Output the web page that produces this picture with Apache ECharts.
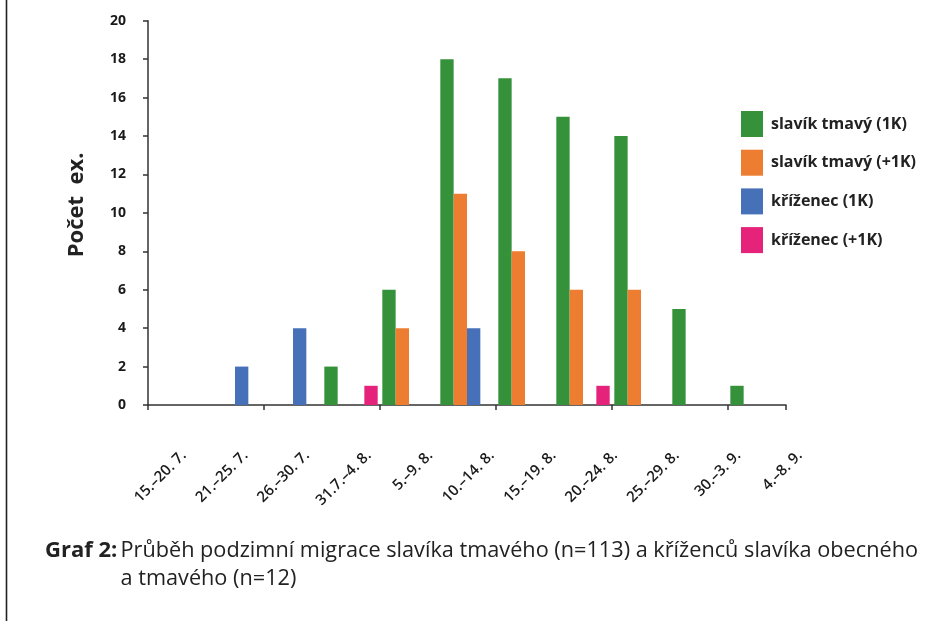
<!DOCTYPE html>
<html>
<head>
<meta charset="utf-8">
<title>Graf 2</title>
<script src="https://cdn.jsdelivr.net/npm/echarts@6/dist/echarts.min.js"></script>
<style>
  html, body { margin: 0; padding: 0; background: #fff; }
  #chart { width: 946px; height: 621px; }
</style>
</head>
<body>
<div id="chart"></div>
<script>
// Periods (five-day intervals) of the autumn migration
const periods = ['15.–20. 7.', '21.–25. 7.', '26.–30. 7.', '31.7.–4. 8.', '5.–9. 8.',
  '10.–14. 8.', '15.–19. 8.', '20.–24. 8.', '25.–29. 8.', '30.–3. 9.', '4.–8. 9.'];

// Counts per period
const tmavy1K   = [0, 0, 0, 2, 6, 18, 17, 15, 14, 5, 1];
const tmavyPlus = [0, 0, 0, 0, 4, 11, 8, 6, 6, 0, 0];
const krizenec1K   = [0, 2, 4, 0, 0, 4, 0, 0, 0, 0, 0];
const krizenecPlus = [0, 0, 0, 1, 0, 0, 0, 1, 0, 0, 0];

const seriesNames = ['slavík tmavý (1K)', 'slavík tmavý (+1K)', 'kříženec (1K)', 'kříženec (+1K)'];
const seriesColors = ['#36923a', '#ed7d31', '#4671b8', '#e6237a'];
const seriesData = [tmavy1K, tmavyPlus, krizenec1K, krizenecPlus];

const yTicks = { min: 0, max: 20, interval: 2 };

const axisColor = '#333';
const textColor = '#1a1a1a';
const font = '"Open Sans", "Noto Sans", sans-serif';

const chart = echarts.init(document.getElementById('chart'), null, { renderer: 'canvas' });

chart.setOption({
  animation: false,
  backgroundColor: '#fff',
  title: [
    {
      text: 'Graf 2:',
      left: 40, top: 535,
      textStyle: { fontFamily: font, fontSize: 22, fontWeight: 'bold', color: '#222' }
    },
    {
      text: 'Průběh podzimní migrace slavíka tmavého (n=113) a kříženců slavíka obecného\na tmavého (n=12)',
      left: 115.5, top: 532,
      textStyle: { fontFamily: font, fontSize: 21.7, fontWeight: 'normal', color: '#222', lineHeight: 28 }
    }
  ],
  legend: {
    orient: 'vertical',
    left: 736, top: 106,
    itemWidth: 22, itemHeight: 26, itemGap: 12.7,
    icon: 'rect',
    data: seriesNames,
    textStyle: { fontFamily: font, fontSize: 16, fontWeight: 'bold', color: '#222', padding: [0, 0, 0, 3] }
  },
  grid: [
    { left: 148, right: 160, top: 20.7, bottom: 216 },
    // label lane for the rotated period names
    { left: 153.2, right: 115.2, top: 20.7, bottom: 216 }
  ],
  xAxis: [
    {
      type: 'category', gridIndex: 0,
      data: periods,
      axisLine: { lineStyle: { color: axisColor, width: 1.5 } },
      axisTick: { show: true, length: 5, lineStyle: { color: axisColor, width: 1.5 } },
      axisLabel: { show: false }
    },
    {
      type: 'category', gridIndex: 1,
      data: periods,
      axisLine: { show: false },
      axisTick: { show: false },
      axisLabel: {
        rotate: 45, margin: 48, interval: 0,
        fontFamily: font, fontSize: 15, fontWeight: 600, color: textColor
      }
    }
  ],
  yAxis: [
    {
      type: 'value', gridIndex: 0,
      min: yTicks.min, max: yTicks.max, interval: yTicks.interval,
      name: 'Počet  ex.',
      nameLocation: 'middle', nameRotate: 90, nameGap: 60,
      nameTextStyle: { fontFamily: font, fontSize: 22, fontWeight: 'bold', color: '#222', padding: [0, 0, 0, 16] },
      axisLine: { show: true, lineStyle: { color: axisColor, width: 1.5 } },
      axisTick: { show: true, length: 5, lineStyle: { color: axisColor, width: 1.5 } },
      axisLabel: { margin: 22, fontFamily: font, fontSize: 14, fontWeight: 'bold', color: textColor },
      splitLine: { show: false }
    },
    { type: 'value', gridIndex: 1, show: false, min: 0, max: 20 }
  ],
  series: seriesNames.map((name, i) => ({
    name,
    type: 'bar',
    xAxisIndex: 0, yAxisIndex: 0,
    data: seriesData[i],
    barGap: '0%',
    barCategoryGap: '8%',
    itemStyle: { color: seriesColors[i] }
  })),
  graphic: [
    {
      type: 'line',
      shape: { x1: 6.5, y1: 0, x2: 6.5, y2: 621 },
      style: { stroke: '#222', lineWidth: 1.6 },
      silent: true
    }
  ]
});
</script>
</body>
</html>
